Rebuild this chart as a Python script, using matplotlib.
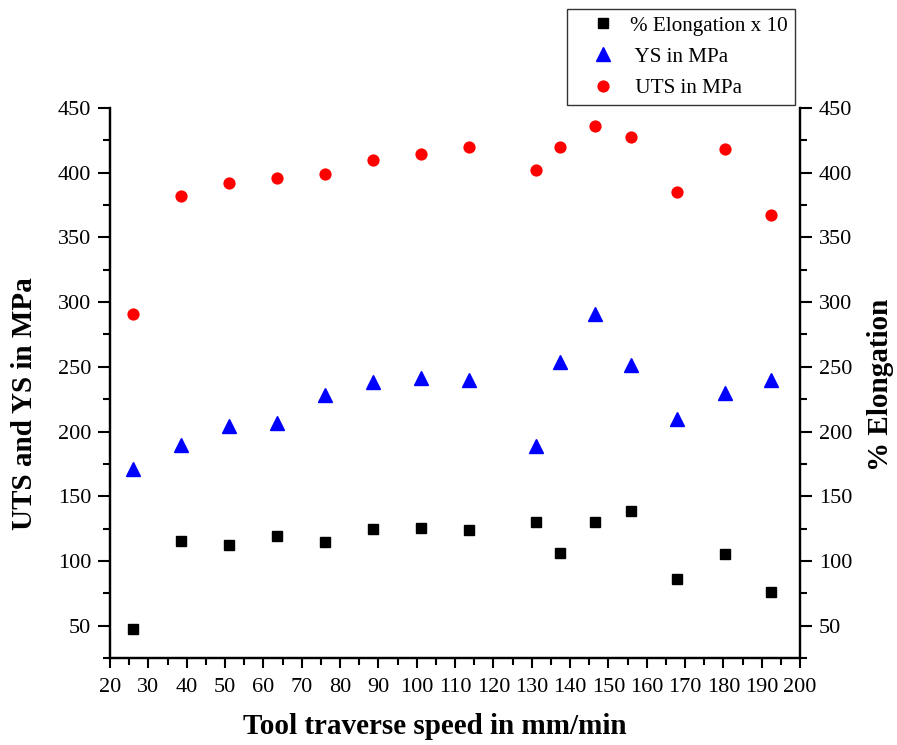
import matplotlib
matplotlib.use("Agg")
import matplotlib.pyplot as plt
from matplotlib.ticker import MultipleLocator

plt.rcParams['font.family'] = ['Liberation Serif', 'DejaVu Serif']

speed = [26.1, 38.6, 51.1, 63.6, 76.2, 88.7, 101.2, 113.7, 131.2, 137.5, 146.4, 155.9, 168.0, 180.4, 192.5]
uts = [290.9, 382.3, 391.8, 396.0, 399.0, 409.8, 414.2, 419.6, 402.4, 419.9, 435.9, 427.4, 385.4, 418.3, 367.6]
ys = [171.0, 189.5, 204.2, 206.3, 228.4, 238.2, 241.7, 240.0, 188.8, 253.4, 291.2, 251.5, 209.6, 229.7, 240.2]
elong_x10 = [47.5, 115.1, 112.6, 119.5, 114.6, 124.9, 125.2, 123.9, 129.8, 105.9, 129.8, 138.3, 85.8, 105.2, 75.8]

xticks = list(range(20, 201, 10))
yticks = list(range(50, 451, 50))

fig = plt.figure(figsize=(8.97, 7.45), dpi=100)
ax = fig.add_axes([110/897, 1-658/745, 690/897, 550/745])
ax2 = ax.twinx()

ax.set_xlim(20, 200)
ax.set_ylim(25, 450)
ax2.set_ylim(25, 450)

h_el, = ax2.plot(speed, elong_x10, linestyle='none', marker='s', ms=7.8, color='black', label='% Elongation x 10')
h_ys, = ax.plot(speed, ys, linestyle='none', marker='^', ms=9.5, color='blue', label=' YS in MPa')
h_uts, = ax.plot(speed, uts, linestyle='none', marker='o', ms=8.8, color='red', markeredgewidth=0, label=' UTS in MPa')

ax.set_xticks(xticks)
ax.set_yticks(yticks)
ax2.set_yticks(yticks)
ax.xaxis.set_minor_locator(MultipleLocator(5))
ax.yaxis.set_minor_locator(MultipleLocator(25))
ax2.yaxis.set_minor_locator(MultipleLocator(25))

for a in (ax, ax2):
    for s in a.spines.values():
        s.set_linewidth(1.6)
    a.spines['top'].set_visible(False)
    a.tick_params(which='major', length=8.5, width=1.5, labelsize=16, pad=5.0)
    a.tick_params(which='minor', length=5, width=1.5)
ax.tick_params(axis='x', which='major', length=7.5, pad=7)
ax.tick_params(axis='x', which='minor', length=5)
ax.tick_params(axis='y', which='both', right=False)
ax2.tick_params(axis='y', which='both', left=False)

fig.text(435/897, 1-727/745, 'Tool traverse speed in mm/min', fontsize=21, fontweight='bold',
         ha='center', va='center')
fig.text(25/897, 1-404/745, 'UTS and YS in MPa', fontsize=21, fontweight='bold',
         ha='center', va='center', rotation=90)
fig.text(880/897, 1-385/745, '% Elongation', fontsize=21, fontweight='bold',
         ha='center', va='center', rotation=90)

leg = fig.legend(handles=[h_el, h_ys, h_uts], loc='upper left',
                 bbox_to_anchor=(567/897, 1-9/745), fontsize=15.2, frameon=True,
                 fancybox=False, edgecolor='black', borderpad=0.32, labelspacing=0.54,
                 handlelength=2.77, handletextpad=-0.1, borderaxespad=0)
leg.get_frame().set_linewidth(1.0)

fig.savefig('out.png', dpi=100)
